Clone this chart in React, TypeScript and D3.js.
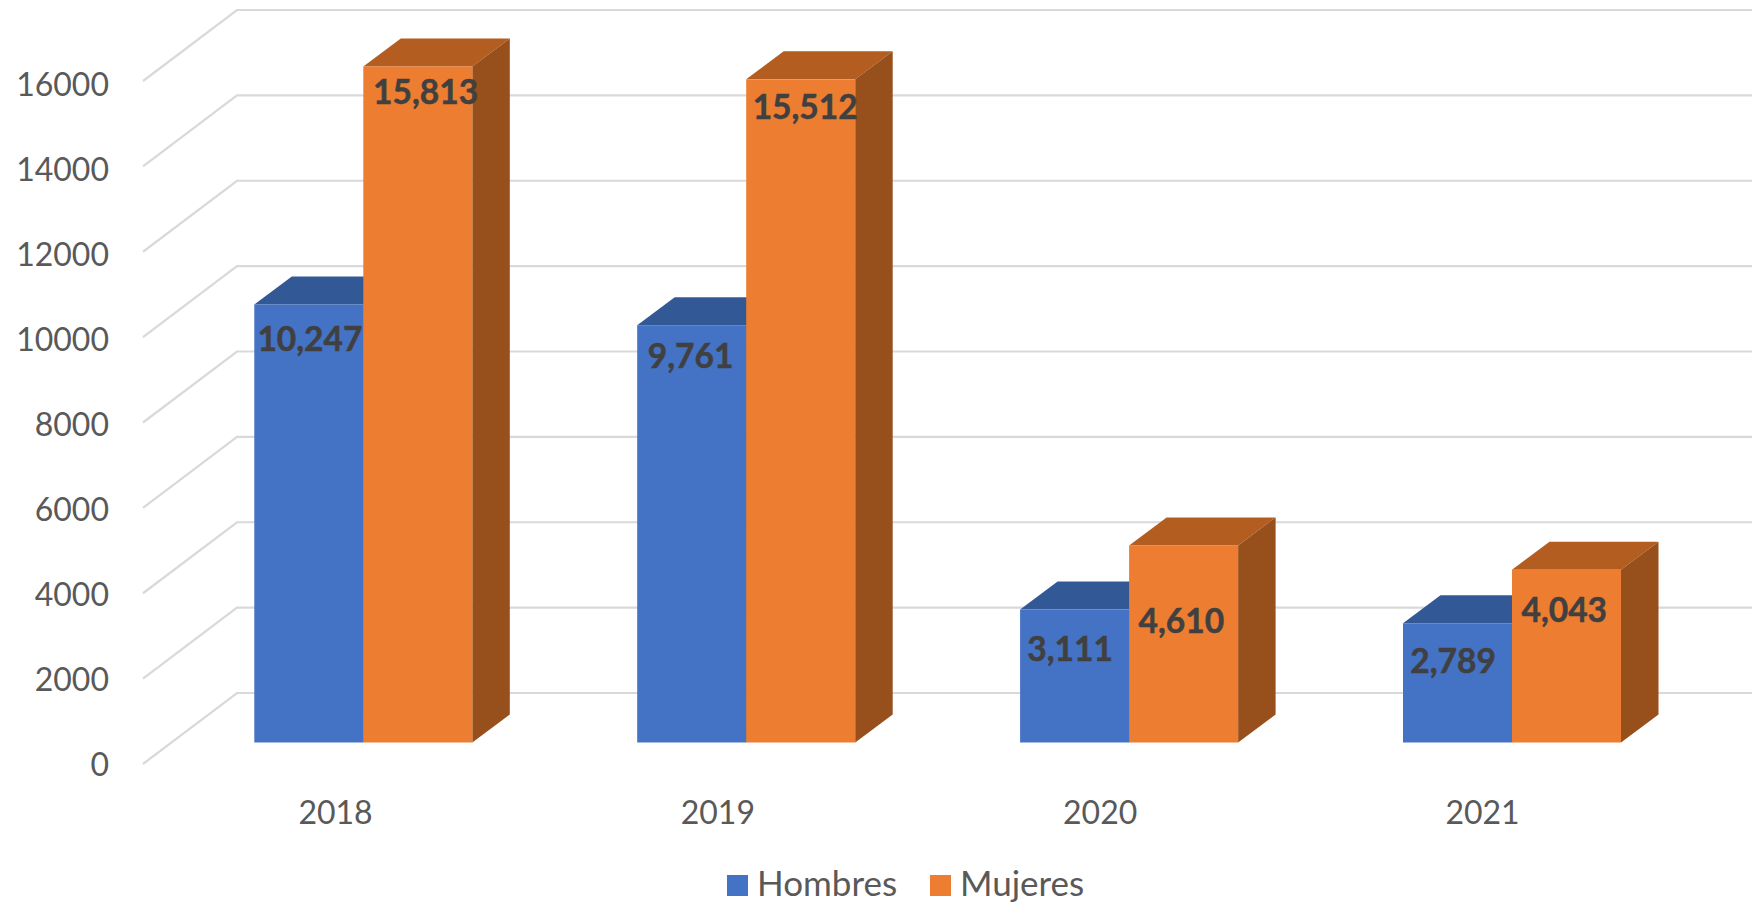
import React from 'react';
import * as d3 from 'd3';

const years = ['2018', '2019', '2020', '2021'];
const seriesNames = ['Hombres', 'Mujeres'];
const hombres = [10247, 9761, 3111, 2789];
const mujeres = [15813, 15512, 4610, 4043];
const yTicks = [0, 2000, 4000, 6000, 8000, 10000, 12000, 14000, 16000];

// the data labels were dragged by hand in the original, so each one has its own nudge
const labelNudgeX = [[1, -1, -4, -4], [7, 4, -2, -2]];
const labelNudgeY = [[31, 28, 35, 34], [23, 25, 68, 36]];

const width = 1752;
const height = 906;
const depthX = 37.5;
const depthY = 28;
const font = 'Lato, sans-serif';

const faceColors = ['#4472C4', '#ED7D31'];
const topColors = ['#335896', '#B35D20'];
const sideColors = ['#2A4A80', '#974F1C'];

const yBar = d3.scaleLinear().domain([0, 16000]).range([742.5, 58.5]);
const yWall = d3.scaleLinear().domain([0, 16000]).range([693, 10]);
const yFront = d3.scaleLinear().domain([0, 16000]).range([764, 81]);
const yLabel = d3.scaleLinear().domain([0, 16000]).range([776, 96]);
const xBand = d3.scaleBand().domain(years).range([171.85, 1703.45]);
const xInner = d3
  .scaleBand()
  .domain(seriesNames)
  .range([0, xBand.bandwidth()])
  .paddingOuter(0.7564)
  .paddingInner(0);
const xYear = d3.scalePoint().domain(years).range([335.5, 1482.5]);

const wallLeft = 237;
const floorLeft = 143;

function Bar({ year, name, value, s }: { year: string; name: string; value: number; s: number }) {
  const x0 = (xBand(year) as number) + (xInner(name) as number);
  const w = xInner.bandwidth();
  const y0 = yBar(0);
  const y1 = yBar(value);
  const top = d3.path();
  top.moveTo(x0, y1);
  top.lineTo(x0 + depthX, y1 - depthY);
  top.lineTo(x0 + w + depthX, y1 - depthY);
  top.lineTo(x0 + w, y1);
  top.closePath();
  const side = d3.path();
  side.moveTo(x0 + w, y1);
  side.lineTo(x0 + w + depthX, y1 - depthY);
  side.lineTo(x0 + w + depthX, y0 - depthY);
  side.lineTo(x0 + w, y0);
  side.closePath();
  return (
    <g>
      <path d={top.toString()} fill={topColors[s]} />
      <path d={side.toString()} fill={sideColors[s]} />
      <rect x={x0} y={y1} width={w} height={y0 - y1} fill={faceColors[s]} />
    </g>
  );
}

export default function App() {
  return (
    <svg
      width={width}
      height={height}
      style={{ position: 'absolute', left: 0, top: 0, background: '#fff' }}
      fontFamily={font}
    >
      {yTicks.map((t) => (
        <path
          key={t}
          d={`M${floorLeft},${yFront(t)}L${wallLeft},${yWall(t)}L${width},${yWall(t)}`}
          fill="none"
          stroke="#D9D9D9"
          strokeWidth={2.2}
        />
      ))}
      {yTicks.map((t) => (
        <text key={t} x={109} y={yLabel(t)} textAnchor="end" fontSize={32} fill="#595959">
          {t}
        </text>
      ))}

      {years.map((year, i) => (
        <g key={year}>
          <Bar year={year} name="Hombres" value={hombres[i]} s={0} />
          <Bar year={year} name="Mujeres" value={mujeres[i]} s={1} />
        </g>
      ))}

      {years.map((year, i) => {
        const vals = [hombres[i], mujeres[i]];
        return seriesNames.map((name, s) => (
          <text
            key={name}
            x={
              (xBand(year) as number) +
              (xInner(name) as number) +
              xInner.bandwidth() / 2 +
              labelNudgeX[s][i] * 1.117
            }
            y={yBar(vals[s]) + labelNudgeY[s][i] * 1.117 + 12}
            textAnchor="middle"
            fontSize={33.5}
            fontWeight={700}
            fill="#404040"
            stroke="#404040"
            strokeWidth={0.5}
          >
            {d3.format(',')(vals[s])}
          </text>
        ));
      })}

      {years.map((year) => (
        <text
          key={year}
          x={xYear(year)}
          y={824}
          textAnchor="middle"
          fontSize={32}
          fill="#595959"
        >
          {year}
        </text>
      ))}

      {seriesNames.map((name, s) => {
        const lx = [727, 930][s];
        return (
          <g key={name}>
            <rect x={lx} y={875} width={21} height={21} fill={faceColors[s]} />
            <text x={lx + 30} y={896} fontSize={35} fill="#595959">
              {name}
            </text>
          </g>
        );
      })}
    </svg>
  );
}
